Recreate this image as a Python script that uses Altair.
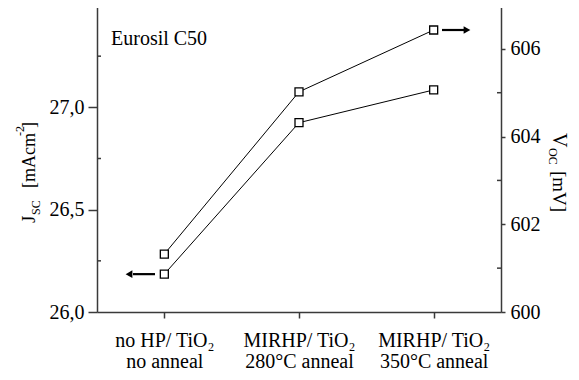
import altair as alt
import pandas as pd

# ---- data ----
label_line1 = ["no HP/ TiO\u2082", "MIRHP/ TiO\u2082", "MIRHP/ TiO\u2082"]
label_line2 = ["no anneal", "280°C anneal", "350°C anneal"]
jsc = [26.185, 26.925, 27.085]        # mA cm^-2 (left axis)
voc = [601.32, 605.02, 606.43]        # mV (right axis)
j_ticks = [26.0, 26.5, 27.0]
j_minor = [26.25, 26.75, 27.25]
v_ticks = [600, 602, 604, 606]
v_minor = [601, 603, 605]

FONT = "Liberation Serif, Times New Roman, Times, serif"
W, H = 404, 307
FRAME = "#3a3a3a"

cats = [a + "\n" + b for a, b in zip(label_line1, label_line2)]
df = pd.DataFrame({"cat": cats, "jsc": jsc, "voc": voc})

xenc = alt.X(
    "cat:N", sort=cats,
    scale=alt.Scale(type="point", padding=0.5),
    axis=alt.Axis(title=None, labelExpr="split(datum.label, '\\n')",
                  labelFont=FONT, labelFontSize=20, labelColor="black",
                  labelAngle=0, labelLineHeight=21, labelPadding=12,
                  tickSize=6, tickColor=FRAME, tickWidth=1.5,
                  domainColor=FRAME, domainWidth=1.5),
)

jscale = alt.Scale(domain=[26.0, 27.5], nice=False, zero=False)
vscale = alt.Scale(domain=[600, 607], nice=False, zero=False)

jaxis = alt.Axis(title=None, values=j_ticks, orient="left",
                 labelExpr="replace(format(datum.value, '.1f'), '.', ',')",
                 labelFont=FONT, labelFontSize=20, labelColor="black",
                 tickSize=9, labelPadding=4, tickColor=FRAME, tickWidth=1.5,
                 domainColor=FRAME, domainWidth=1.5, grid=False)
vaxis = alt.Axis(title=None, values=v_ticks, orient="right", format="d",
                 labelFont=FONT, labelFontSize=20, labelColor="black",
                 tickSize=4, labelPadding=5, tickColor=FRAME, tickWidth=1.5,
                 domainColor=FRAME, domainWidth=1.5, grid=False)

df_jmin = pd.DataFrame({"jsc": j_minor})
df_vmin = pd.DataFrame({"voc": v_minor})
df_jarrow = pd.DataFrame({"jsc": [jsc[0]]})
df_varrow = pd.DataFrame({"voc": [voc[-1]]})

def jy():
    return alt.Y("jsc:Q", scale=jscale, axis=jaxis)

def vy():
    return alt.Y("voc:Q", scale=vscale, axis=vaxis)

base = alt.Chart(df)

def series(yenc):
    line = base.mark_line(color="black", strokeWidth=1).encode(x=xenc, y=yenc)
    pts = base.mark_point(shape="square", size=64, filled=True, fill="white",
                          stroke="black", strokeWidth=1.3, opacity=1).encode(x=xenc, y=yenc)
    return line, pts

jline, jpts = series(jy())
vline, vpts = series(vy())

jmin = alt.Chart(df_jmin).mark_rule(color=FRAME, strokeWidth=1.5).encode(
    y=jy(), x=alt.value(0), x2=alt.value(4))
vmin = alt.Chart(df_vmin).mark_rule(color=FRAME, strokeWidth=1.5).encode(
    y=vy(), x=alt.value(W), x2=alt.value(W - 4))

jarrow = alt.Chart(df_jarrow).mark_rule(color="black", strokeWidth=2.2).encode(
    y=jy(), x=alt.value(36), x2=alt.value(58))
jhead = alt.Chart(df_jarrow).mark_point(shape="triangle-left", filled=True, color="black",
                                        size=60, opacity=1).encode(y=jy(), x=alt.value(32))
varrow = alt.Chart(df_varrow).mark_rule(color="black", strokeWidth=2.2).encode(
    y=vy(), x=alt.value(345), x2=alt.value(367))
vhead = alt.Chart(df_varrow).mark_point(shape="triangle-right", filled=True, color="black",
                                        size=60, opacity=1).encode(y=vy(), x=alt.value(370))

def txt(s, x, y, size=20, angle=0):
    return alt.Chart(pd.DataFrame({"t": [s]})).mark_text(
        font=FONT, fontSize=size, color="black", align="left", baseline="alphabetic",
        angle=angle).encode(text="t:N", x=alt.value(x), y=alt.value(y))

label = txt("Eurosil C50", 14, 40, 20)

# left axis title  J_SC [mAcm^-2]  (rotated, reading upward)
lt = [
    txt("J", -62, 218, 19, 270),
    txt("SC", -57, 210, 12, 270),
    txt("[mAcm", -62, 183, 18, 270),
    txt("-2", -73, 131, 12, 270),
    txt("]", -62, 123, 18, 270),
]
# right axis title  V_OC [mV]  (rotated, reading downward)
rt = [
    txt("V", 456, 128, 20, 90),
    txt("OC", 452, 143, 12, 90),
    txt("[mV]", 456, 166, 19, 90),
]

left = alt.layer(jline, jpts, jmin, jarrow, jhead)
right = alt.layer(vline, vpts, vmin, varrow, vhead)

chart = alt.layer(left, right, label, *lt, *rt).resolve_scale(y="independent").properties(
    width=W, height=H,
    padding={"left": 89, "top": -3, "right": 70, "bottom": 60},
    autosize=alt.AutoSizeParams(type="none"),
).configure_view(stroke=FRAME, strokeWidth=1.5).configure(background="white")

chart.save("out.html", embed_options={"renderer": "svg", "actions": False})
